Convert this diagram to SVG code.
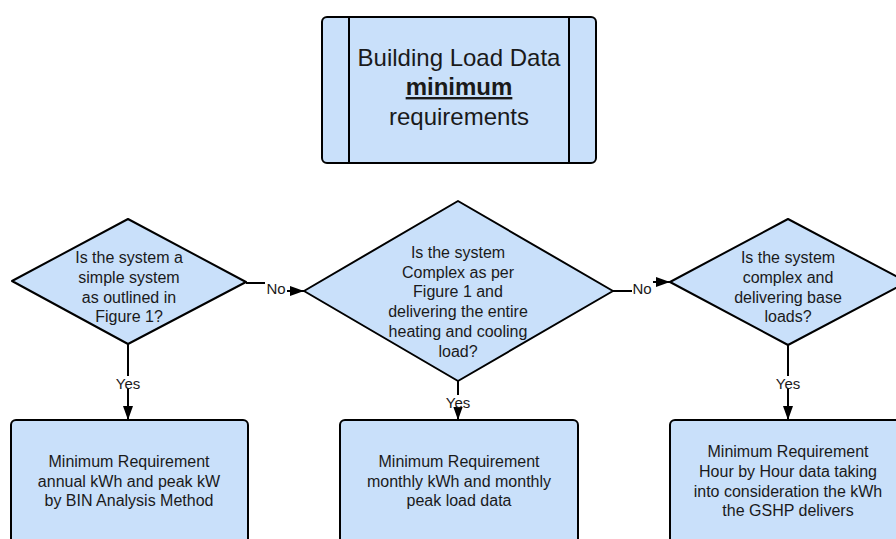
<svg xmlns="http://www.w3.org/2000/svg" width="896" height="539" viewBox="0 0 896 539">
  <defs>
    <marker id="arrow" viewBox="0 0 14 10" refX="14" refY="5" markerWidth="14" markerHeight="10" markerUnits="userSpaceOnUse" orient="auto">
      <path d="M0,0 L14,5 L0,10 z" fill="#000"/>
    </marker>
    <style>
      .shape { fill: #c9e0fa; stroke: #000; stroke-width: 2; stroke-linejoin: round; }
      .txt { font-family: "Liberation Sans", Arial, sans-serif; fill: #1a1a1a; text-anchor: middle; }
      .title { font-size: 24px; }
      .body { font-size: 16px; }
      .box { font-size: 16px; }
      .conn { fill: none; stroke: #000; stroke-width: 2; }
      .lbl { font-family: "Liberation Sans", Arial, sans-serif; font-size: 15px; fill: #1a1a1a; text-anchor: middle; }
      .lblbg { fill: #fff; }
    </style>
  </defs>
  <rect width="896" height="539" fill="#fff"/>

  <!-- Title block -->
  <g id="title">
    <rect class="shape" x="322" y="17" width="274" height="146" rx="5"/>
    <line x1="349" y1="17" x2="349" y2="163" stroke="#000" stroke-width="2"/>
    <line x1="569" y1="17" x2="569" y2="163" stroke="#000" stroke-width="2"/>
    <text class="txt title" x="459" y="66">Building Load Data</text>
    <text class="txt title" x="459" y="95" font-weight="bold" text-decoration="underline">minimum</text>
    <text class="txt title" x="459" y="125">requirements</text>
  </g>

  <!-- Decisions -->
  <g id="q-simple">
    <polygon class="shape" points="12,281 128,219 246,282 128,344"/>
    <text class="txt body" x="129" y="263">Is the system a</text>
    <text class="txt body" x="129" y="283">simple system</text>
    <text class="txt body" x="129" y="303">as outlined in</text>
    <text class="txt body" x="129" y="322">Figure 1?</text>
  </g>
  <g id="q-complex">
    <polygon class="shape" points="304,291 458,201 613,291 458,381"/>
    <text class="txt body" x="458" y="258">Is the system</text>
    <text class="txt body" x="458" y="278">Complex as per</text>
    <text class="txt body" x="458" y="297">Figure 1 and</text>
    <text class="txt body" x="458" y="317">delivering the entire</text>
    <text class="txt body" x="458" y="337">heating and cooling</text>
    <text class="txt body" x="458" y="357">load?</text>
  </g>
  <g id="q-base">
    <polygon class="shape" points="670,282 788,219 907,282 788,345"/>
    <text class="txt body" x="788" y="263">Is the system</text>
    <text class="txt body" x="788" y="283">complex and</text>
    <text class="txt body" x="788" y="303">delivering base</text>
    <text class="txt body" x="788" y="322">loads?</text>
  </g>

  <!-- Outcomes -->
  <g id="req-annual">
    <rect class="shape" x="11" y="420" width="237" height="150" rx="5"/>
    <text class="txt box" x="129" y="467">Minimum Requirement</text>
    <text class="txt box" x="129" y="487">annual kWh and peak kW</text>
    <text class="txt box" x="129" y="506">by BIN Analysis Method</text>
  </g>
  <g id="req-monthly">
    <rect class="shape" x="340" y="420" width="238" height="150" rx="5"/>
    <text class="txt box" x="459" y="467">Minimum Requirement</text>
    <text class="txt box" x="459" y="487">monthly kWh and monthly</text>
    <text class="txt box" x="459" y="506">peak load data</text>
  </g>
  <g id="req-hourly">
    <rect class="shape" x="670" y="420" width="238" height="150" rx="5"/>
    <text class="txt box" x="788" y="457">Minimum Requirement</text>
    <text class="txt box" x="788" y="477">Hour by Hour data taking</text>
    <text class="txt box" x="788" y="497">into consideration the kWh</text>
    <text class="txt box" x="788" y="516">the GSHP delivers</text>
  </g>

  <!-- Connectors -->
  <g id="connectors">
    <path class="conn" d="M246,283 L276,283 L276,291 L304,291" marker-end="url(#arrow)"/>
    <rect class="lblbg" x="265" y="280" width="22" height="16"/>
    <text class="lbl" x="276" y="294">No</text>

    <path class="conn" d="M613,291 L642,291 L642,282 L670,282" marker-end="url(#arrow)"/>
    <rect class="lblbg" x="632" y="280" width="21" height="16"/>
    <text class="lbl" x="642" y="294">No</text>

    <path class="conn" d="M128,344 L128,420" marker-end="url(#arrow)"/>
    <rect class="lblbg" x="116" y="376" width="25" height="12"/>
    <text class="lbl" x="128" y="389">Yes</text>

    <path class="conn" d="M458,381 L458,420" marker-end="url(#arrow)"/>
    <rect class="lblbg" x="446" y="395" width="25" height="12"/>
    <text class="lbl" x="458" y="408">Yes</text>

    <path class="conn" d="M788,345 L788,420" marker-end="url(#arrow)"/>
    <rect class="lblbg" x="776" y="376" width="25" height="12"/>
    <text class="lbl" x="788" y="389">Yes</text>
  </g>
</svg>
